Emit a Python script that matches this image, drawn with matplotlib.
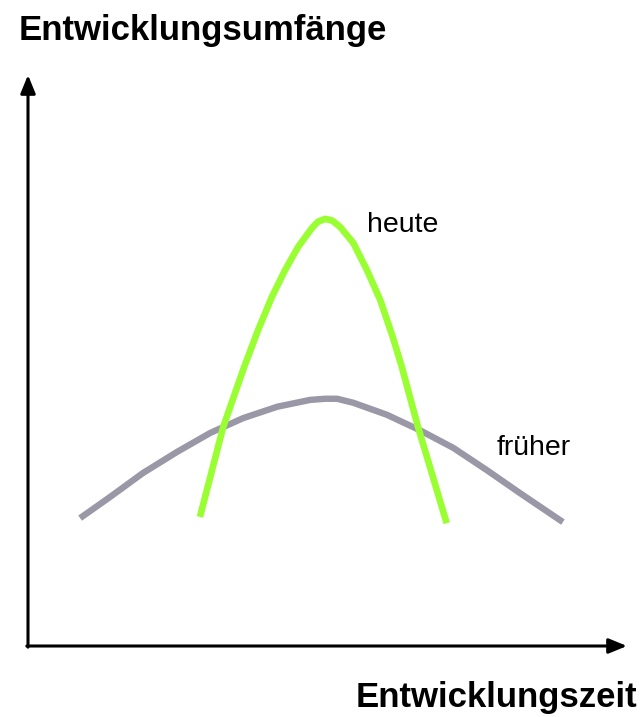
import matplotlib; matplotlib.use('agg'); import matplotlib.pyplot as plt

plt.rcParams['font.family'] = ['Liberation Sans', 'DejaVu Sans']

# curve readings, x = time, y = effort (0..100 along each axis)
frueher_x = [8.7, 13.7, 19.2, 24.9, 30.4, 35.9, 41.6, 47.1, 49.6, 51.6, 54.3, 59.9, 65.4, 71.0, 76.6, 82.1, 89.3]
frueher_y = [22.4, 26.1, 30.3, 34.0, 37.3, 39.9, 41.9, 43.1, 43.3, 43.3, 42.6, 40.5, 37.8, 34.7, 30.8, 26.8, 21.7]

heute_x = [28.7, 32.6, 36.1, 38.4, 40.7, 42.9, 45.1, 47.4, 48.4, 49.6, 50.8, 52.1, 54.3, 56.6, 58.8, 60.9, 62.4, 65.1, 69.9]
heute_y = [22.6, 38.4, 48.9, 55.3, 61.1, 65.8, 69.9, 73.2, 74.3, 74.8, 74.5, 73.4, 70.6, 65.8, 60.6, 54.1, 48.9, 38.4, 21.5]

W, H = 641, 717
fig = plt.figure(figsize=(W / 100, H / 100), dpi=100)
# origin at pixel (28, 646), axis tips at (627, 75)
ax = fig.add_axes([28 / W, (H - 646) / H, (627 - 28) / W, (646 - 75) / H])
ax.set_xlim(0, 100)
ax.set_ylim(0, 100)
ax.axis("off")

ax.plot(frueher_x, frueher_y, "-", color="#9a97a6", linewidth=4.6, solid_capstyle="butt", solid_joinstyle="round")
ax.plot(heute_x, heute_y, "-", color="#99ff33", linewidth=4.8, solid_capstyle="butt", solid_joinstyle="round")

arrow = dict(arrowstyle="-|>,head_length=1.1,head_width=0.45", color="black", lw=2.2, shrinkA=0, shrinkB=0)
ax.annotate("", xy=(0, 100), xytext=(0, -0.2), arrowprops=arrow, annotation_clip=False)
ax.annotate("", xy=(100, 0), xytext=(-0.2, 0), arrowprops=arrow, annotation_clip=False)

fig.text(19 / W, 1 - 40 / H, "Entwicklungsumfänge", fontsize=25, fontweight="bold", ha="left", va="baseline")
fig.text(637 / W, 1 - 707 / H, "Entwicklungszeit", fontsize=25, fontweight="bold", ha="right", va="baseline")
fig.text(367 / W, 1 - 232 / H, "heute", fontsize=20.5, ha="left", va="baseline")
fig.text(497 / W, 1 - 455 / H, "früher", fontsize=20.5, ha="left", va="baseline")

fig.savefig("out.png", dpi=100)
plt.close()
